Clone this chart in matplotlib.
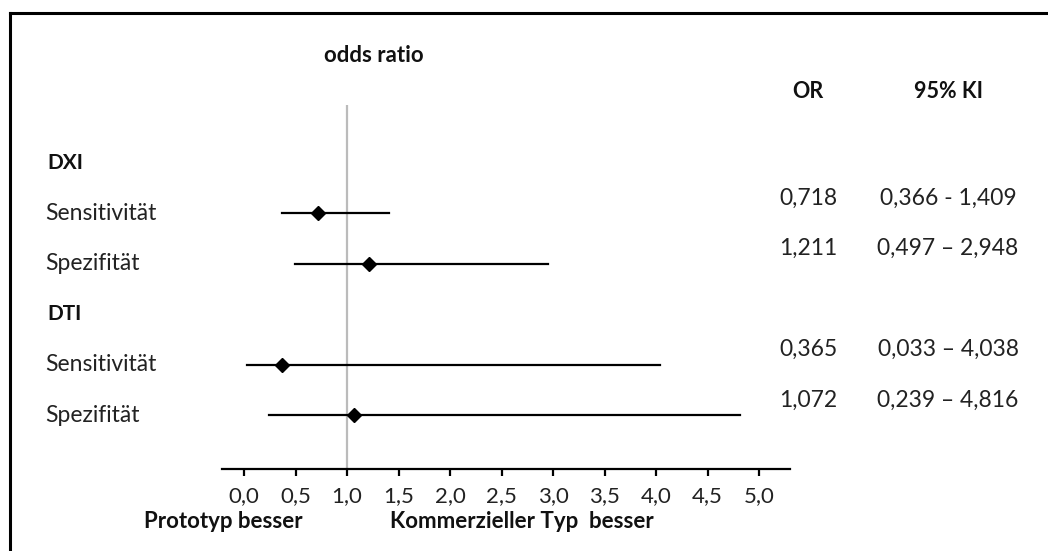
import matplotlib
matplotlib.use("Agg")
import matplotlib.pyplot as plt
from matplotlib.lines import Line2D
import matplotlib.transforms as mtransforms

plt.rcParams['font.family'] = ['Lato', 'DejaVu Sans']

# data
groups = ['DXI', 'DTI']
rows = ['DXI', 'Sensitivität', 'Spezifität', 'DTI', 'Sensitivität', 'Spezifität']
odds = [0.718, 1.211, 0.365, 1.072]
ci_low = [0.366, 0.497, 0.033, 0.239]
ci_high = [1.409, 2.948, 4.038, 4.816]
or_text = ['0,718', '1,211', '0,365', '1,072']
ci_text = ['0,366 - 1,409', '0,497 \u2013 2,948', '0,033 \u2013 4,038', '0,239 \u2013 4,816']
xticks = [0.0, 0.5, 1.0, 1.5, 2.0, 2.5, 3.0, 3.5, 4.0, 4.5, 5.0]
xticklabels = ['0,0', '0,5', '1,0', '1,5', '2,0', '2,5', '3,0', '3,5', '4,0', '4,5', '5,0']

W, H = 1048, 551
fig = plt.figure(figsize=(W / 100, H / 100), dpi=100)
txt_col = '#222222'

# axes placed in pixel coordinates
ax_l, ax_r, ax_t, ax_b = 222, 790, 105, 469
ax = fig.add_axes([ax_l / W, 1 - ax_b / H, (ax_r - ax_l) / W, (ax_b - ax_t) / H])
ax.set_xlim(-0.214, 5.30)
row_h = 50.4
ax.set_ylim((ax_b - 163) / row_h, (ax_t - 163) / row_h)

for s in ['top', 'right', 'left']:
    ax.spines[s].set_visible(False)
ax.spines['bottom'].set_linewidth(1.6)
ax.set_yticks([])
ax.set_xticks(xticks)
ax.set_xticklabels(xticklabels, fontsize=16, color=txt_col)
ax.tick_params(axis='x', direction='out', length=5, width=1.6, pad=7)

ax.axvline(1.0, color='#bbbbbb', lw=1.6, zorder=1)

data_rows = [1, 2, 4, 5]
for i, y in enumerate(data_rows):
    ax.plot([ci_low[i], ci_high[i]], [y, y], color='black', lw=1.6, zorder=2)
    ax.plot(odds[i], y, marker='D', color='black', markersize=7, zorder=3)

# row labels
tr = mtransforms.blended_transform_factory(fig.transFigure, ax.transData)
for k, lab in enumerate(rows):
    if lab in groups:
        ax.text(47 / W, k, lab, transform=tr, fontsize=15, fontweight='bold',
                va='center', ha='left', color='#111111')
    else:
        ax.text(45 / W, k, lab, transform=tr, fontsize=16.5, va='center', ha='left', color=txt_col)

# table columns
for i, y in enumerate(data_rows):
    ax.text(808 / W, y - 0.3, or_text[i], transform=tr, fontsize=16.5, va='center', ha='center',
            color=txt_col, clip_on=False)
    ax.text(948 / W, y - 0.3, ci_text[i], transform=tr, fontsize=16.5, va='center', ha='center',
            color=txt_col, clip_on=False)

bold = dict(fontweight='bold', ha='center', va='center', color='#111111')
fig.text(808 / W, 1 - 92 / H, 'OR', fontsize=15.5, **bold)
fig.text(949 / W, 1 - 92 / H, '95% KI', fontsize=15.5, **bold)
fig.text(374 / W, 1 - 55 / H, 'odds ratio', fontsize=16, **bold)
fig.text(223 / W, 1 - 521 / H, 'Prototyp besser', fontsize=16, **bold)
fig.text(522 / W, 1 - 521 / H, 'Kommerzieller Typ  besser', fontsize=16, **bold)

# frame lines (top and left only)
fig.add_artist(Line2D([10 / W, 1], [1 - 13 / H, 1 - 13 / H], color='black', lw=2.2,
                      transform=fig.transFigure))
fig.add_artist(Line2D([10 / W, 10 / W], [0, 1 - 13 / H], color='black', lw=2.2,
                      transform=fig.transFigure))

fig.savefig('out.png', dpi=100)
